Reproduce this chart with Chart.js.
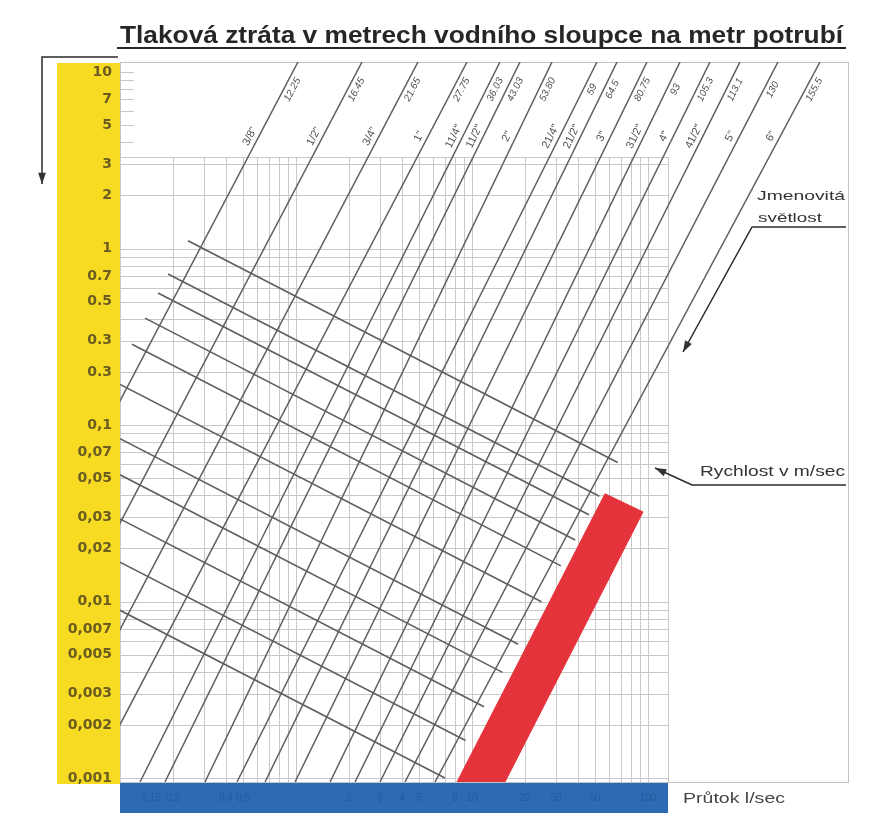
<!DOCTYPE html>
<html lang="cs">
<head>
<meta charset="utf-8">
<title>Tlaková ztráta</title>
<script src="https://cdn.jsdelivr.net/npm/chart.js@4.4.1/dist/chart.umd.min.js"></script>
<style>
  html, body { margin: 0; padding: 0; background: #fff; }
  #wrap { width: 876px; height: 820px; }
</style>
</head>
<body>
<div id="wrap"><canvas id="chart" width="876" height="820"></canvas></div>
<script>
// ============================= values

// axis ranges (flow l/s, loss m/m)
const FLOW_MIN = 0.1, FLOW_MAX = 1369, FLOW_GRID_MAX = 130
const LOSS_MIN = 0.00095, LOSS_MAX = 11.4, LOSS_GRID_MAX = 3.3

// pipes: nominal size, inner diameter, flow where the line meets the top and the bottom edge
const pipeNames = ['3/8"', '1/2"', '3/4"', '1"', '11/4"', '11/2"', '2"', '21/4"', '21/2"', '3"', '31/2"', '4"', '41/2"', '5"', '6"']
const pipeDiameters = ['12.25', '16.45', '21.65', '27.75', '36.03', '43.03', '53.80', '59', '64.5', '80.75', '93', '105.3', '113.1', '130', '155.5']
const pipeFlowTop = [1.026, 2.371, 4.934, 9.37, 14.42, 18.74, 28.48, 51.3, 66.7, 98.7, 152.0, 225.0, 333.2, 547.7, 949.0]
const pipeFlowBottom = [0.0073, 0.0169, 0.0351, 0.0675, 0.130, 0.180, 0.304, 0.462, 0.667, 0.987, 1.561, 2.164, 3.001, 4.163, 6.163]

// velocity lines: start and end (flow, loss)
const velFlowStart = [0.2434, 0.1874, 0.1644, 0.1387, 0.117, 0.1, 0.1, 0.1, 0.1, 0.1, 0.1]
const velLossStart = [1.107, 0.718, 0.560, 0.4036, 0.2871, 0.170, 0.0838, 0.0523, 0.0294, 0.01672, 0.00892]
const velFlowEnd = [67.3, 52.9, 46.2, 38.6, 32.0, 24.8, 18.3, 14.9, 11.7, 9.19, 7.02]
const velLossEnd = [0.0613, 0.0395, 0.0310, 0.02232, 0.01593, 0.00997, 0.00573, 0.00397, 0.002535, 0.001632, 0.001]

// red velocity band corners
const bandFlow = [8.22, 15.4, 93.7, 57.0]
const bandLoss = [LOSS_MIN, LOSS_MIN, 0.0322, 0.0408]

// left (yellow) scale
const lossTicks = [10, 7, 5, 3, 2, 1, 0.7, 0.5, 0.3, 0.2, 0.1, 0.07, 0.05, 0.03, 0.02, 0.01, 0.007, 0.005, 0.003, 0.002, 0.001]
const lossTickLabels = ['10', '7', '5', '3', '2', '1', '0.7', '0.5', '0.3', '0.3', '0,1', '0,07', '0,05', '0,03', '0,02', '0,01', '0,007', '0,005', '0,003', '0,002', '0,001']

// bottom (blue) scale, barely legible in the original
const flowTicks = [0.15, 0.2, 0.4, 0.5, 2, 3, 4, 5, 8, 10, 20, 30, 50, 100]
const flowTickLabels = ['0,15', '0,2', '0,4', '0,5', '2', '3', '4', '5', '8', '10', '20', '30', '50', '100']

// ============================= datasets

const datasets = []

datasets.push({
    data: bandFlow.concat(bandFlow[0]).map((q, i) => ({ x: q, y: bandLoss[i % bandLoss.length] })),
    showLine: true,
    fill: 'shape',
    backgroundColor: '#e5333b',
    borderColor: '#e5333b',
    borderWidth: 1
})

velFlowStart.forEach((q, i) => datasets.push({
    data: [{ x: q, y: velLossStart[i] }, { x: velFlowEnd[i], y: velLossEnd[i] }],
    showLine: true,
    borderColor: '#5e5e5e',
    borderWidth: 1.6
}))

pipeFlowTop.forEach((q, i) => datasets.push({
    data: [{ x: pipeFlowBottom[i], y: LOSS_MIN }, { x: q, y: LOSS_MAX }],
    showLine: true,
    borderColor: '#5e5e5e',
    borderWidth: 1.5
}))

// ============================= drawing helpers

const fitText = (ctx, text, x, y, width) => { // stretch text to the measured width of the original
    const w = ctx.measureText(text).width
    ctx.save()
    ctx.translate(x, y)
    ctx.scale(width / w, 1)
    ctx.fillText(text, 0, 0)
    ctx.restore()
}

const arrowHead = (ctx, fx, fy, tx, ty, size) => {
    const a = Math.atan2(ty - fy, tx - fx)
    ctx.beginPath()
    ctx.moveTo(tx, ty)
    ctx.lineTo(tx - size * Math.cos(a - 0.33), ty - size * Math.sin(a - 0.33))
    ctx.lineTo(tx - size * Math.cos(a + 0.33), ty - size * Math.sin(a + 0.33))
    ctx.closePath()
    ctx.fill()
}

const polyArrow = (ctx, pts) => {
    ctx.beginPath()
    ctx.moveTo(pts[0][0], pts[0][1])
    pts.slice(1).forEach(p => ctx.lineTo(p[0], p[1]))
    ctx.stroke()
    const n = pts.length
    arrowHead(ctx, pts[n - 2][0], pts[n - 2][1], pts[n - 1][0], pts[n - 1][1], 12)
}

// ============================= nomogram plugin (bands, grid, labels)

const nomogram = {
    id: 'nomogram',
    beforeDatasetsDraw(chart) {
        const ctx = chart.ctx, x = chart.scales.x, y = chart.scales.y, a = chart.chartArea
        ctx.save()

        // yellow loss scale
        ctx.fillStyle = '#f7da22'
        ctx.fillRect(57, a.top + 1, a.left - 57, a.bottom - a.top + 1)

        // frame
        ctx.strokeStyle = '#c4c4c4'
        ctx.lineWidth = 1
        ctx.strokeRect(a.left + 0.5, a.top + 0.5, a.right - a.left, a.bottom - a.top)

        // grid
        const gx = x.getPixelForValue(FLOW_GRID_MAX), gy = y.getPixelForValue(LOSS_GRID_MAX)
        ctx.strokeStyle = '#c8c8c8'
        ctx.beginPath()
        for (let e = -1; e <= 2; e++) {
            for (let k = 1; k <= 9; k++) {
                const q = k * Math.pow(10, e)
                if (q > FLOW_GRID_MAX) break
                const px = Math.round(x.getPixelForValue(q)) + 0.5
                ctx.moveTo(px, gy); ctx.lineTo(px, a.bottom)
            }
        }
        ctx.moveTo(Math.round(gx) + 0.5, gy); ctx.lineTo(Math.round(gx) + 0.5, a.bottom)
        for (let e = -3; e <= 1; e++) {
            for (let k = 1; k <= 9; k++) {
                const j = k * Math.pow(10, e)
                const py = Math.round(y.getPixelForValue(j)) + 0.5
                if (j > 10.5) break
                if (j > LOSS_GRID_MAX) { ctx.moveTo(a.left, py); ctx.lineTo(a.left + 14, py) }
                else { ctx.moveTo(a.left, py); ctx.lineTo(gx, py) }
            }
        }
        ctx.moveTo(a.left, Math.round(gy) + 0.5); ctx.lineTo(gx, Math.round(gy) + 0.5)
        ctx.stroke()

        // blue flow scale
        ctx.fillStyle = '#2c6ab4'
        ctx.fillRect(a.left, a.bottom + 1, gx - a.left, 30)
        ctx.fillStyle = 'rgba(20, 50, 105, 0.3)'
        ctx.font = '10px "Liberation Sans"'
        ctx.textAlign = 'center'
        ctx.textBaseline = 'middle'
        flowTicks.forEach((q, i) => ctx.fillText(flowTickLabels[i], x.getPixelForValue(q), a.bottom + 16))

        ctx.restore()
    },
    afterDatasetsDraw(chart) {
        const ctx = chart.ctx, x = chart.scales.x, y = chart.scales.y, a = chart.chartArea
        ctx.save()

        // loss labels on the yellow scale
        ctx.fillStyle = '#6b5d22'
        ctx.font = 'bold 14px "DejaVu Sans"'
        ctx.textAlign = 'right'
        ctx.textBaseline = 'middle'
        lossTicks.forEach((j, i) => ctx.fillText(lossTickLabels[i], 112, y.getPixelForValue(j)))

        // pipe labels along each line
        ctx.fillStyle = '#505050'
        ctx.textAlign = 'center'
        pipeFlowTop.forEach((q, i) => {
            const x1 = x.getPixelForValue(pipeFlowBottom[i]), y1 = y.getPixelForValue(LOSS_MIN)
            const x2 = x.getPixelForValue(q), y2 = y.getPixelForValue(LOSS_MAX)
            const len = Math.hypot(x2 - x1, y2 - y1)
            const nx = -(y2 - y1) / len, ny = (x2 - x1) / len
            const ang = Math.atan2(y2 - y1, x2 - x1)
            const at = (py) => x1 + (py - y1) / (y2 - y1) * (x2 - x1)
            const put = (text, py, off, font) => {
                ctx.save()
                ctx.translate(at(py) + nx * off, py + ny * off)
                ctx.rotate(ang)
                ctx.font = font
                ctx.fillText(text, 0, 0)
                ctx.restore()
            }
            put(pipeDiameters[i], 86, 8, 'italic 10px "Liberation Sans"')
            put(pipeNames[i], 140, -8, '11px "Liberation Sans"')
        })

        // title
        ctx.fillStyle = '#262626'
        ctx.textAlign = 'left'
        ctx.textBaseline = 'alphabetic'
        ctx.font = 'bold 23px "Liberation Sans"'
        fitText(ctx, 'Tlaková ztráta v metrech vodního sloupce na metr potrubí', 120, 43, 723)
        ctx.strokeStyle = '#262626'
        ctx.lineWidth = 2
        ctx.beginPath(); ctx.moveTo(117, 48); ctx.lineTo(846, 48); ctx.stroke()

        // annotations
        ctx.fillStyle = '#333'
        ctx.strokeStyle = '#2a2a2a'
        ctx.lineWidth = 1.5
        polyArrow(ctx, [[118, 57], [42, 57], [42, 184]])

        ctx.font = '13px "Liberation Sans"'
        ctx.textBaseline = 'middle'
        fitText(ctx, 'Jmenovitá', 757, 196, 88)
        fitText(ctx, 'světlost', 758, 218, 64)
        polyArrow(ctx, [[846, 227], [752, 227], [683, 352]])

        ctx.font = '14px "Liberation Sans"'
        fitText(ctx, 'Rychlost v m/sec', 700, 472, 145)
        polyArrow(ctx, [[846, 485], [692, 485], [655, 468]])

        ctx.fillStyle = '#444'
        ctx.font = '15px "Liberation Sans"'
        fitText(ctx, 'Průtok l/sec', 683, 799, 102)

        ctx.restore()
    }
}

// ============================= chart

new Chart(document.getElementById('chart'), {
    type: 'scatter',
    data: { datasets },
    options: {
        responsive: false,
        animation: false,
        devicePixelRatio: 1,
        events: [],
        layout: { padding: { left: 120, right: 28, top: 62, bottom: 38 } },
        elements: { point: { radius: 0 } },
        scales: {
            x: { type: 'logarithmic', min: FLOW_MIN, max: FLOW_MAX, display: false },
            y: { type: 'logarithmic', min: LOSS_MIN, max: LOSS_MAX, display: false }
        },
        plugins: { legend: { display: false }, tooltip: { enabled: false } }
    },
    plugins: [nomogram]
})
</script>
</body>
</html>
